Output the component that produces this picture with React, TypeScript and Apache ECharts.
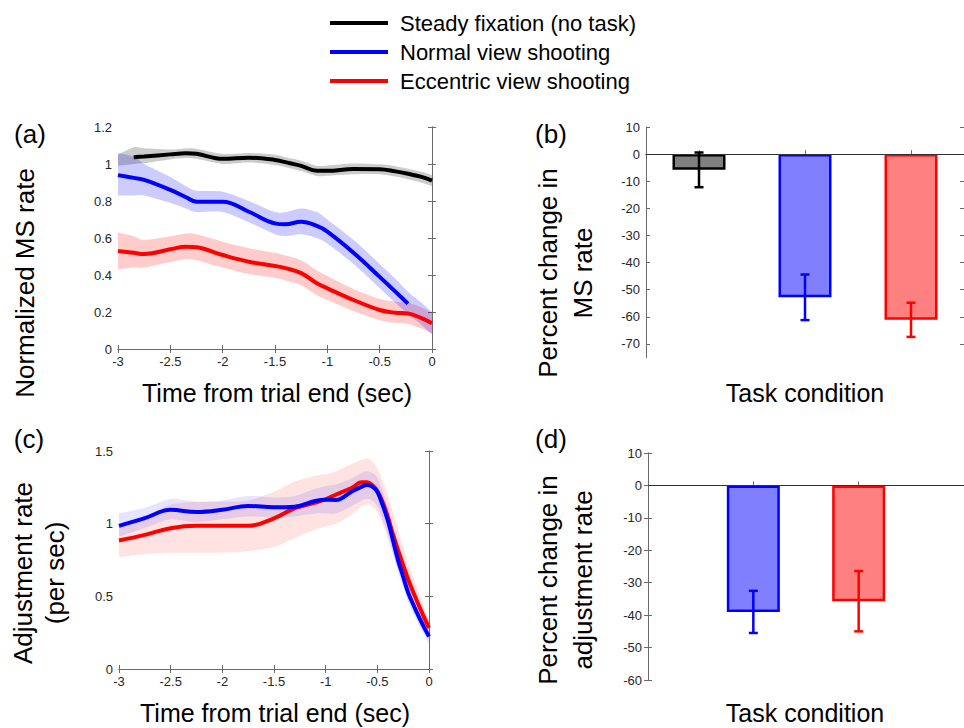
import React, { useEffect, useRef } from "react";
import * as echarts from "echarts";

// ---------- data ----------
const legendNames = ["Steady fixation (no task)", "Normal view shooting", "Eccentric view shooting"];

// Panel (a): normalized MS rate
const aTime = [-3, -2.85, -2.75, -2.5, -2.35, -2.25, -2, -1.75, -1.5, -1.4, -1.25, -1.1, -1, -0.75, -0.5, -0.35, -0.23, -0.1, 0];
const aBlack = [null, 1.036, 1.04, 1.052, 1.058, 1.055, 1.028, 1.034, 1.022, 1.01, 0.99, 0.963, 0.963, 0.973, 0.972, 0.96, 0.947, 0.93, 0.91];
const aBlackLo = [0.99, 1.0, 1.005, 1.025, 1.032, 1.028, 1.0, 1.008, 0.995, 0.983, 0.962, 0.935, 0.936, 0.945, 0.945, 0.932, 0.918, 0.9, 0.88];
const aBlackHi = [1.05, 1.09, 1.085, 1.078, 1.084, 1.082, 1.054, 1.06, 1.05, 1.037, 1.018, 0.99, 0.992, 1.003, 0.998, 0.988, 0.975, 0.958, 0.94];
const aBlue = [0.94, 0.925, 0.914, 0.86, 0.82, 0.796, 0.796, 0.742, 0.679, 0.674, 0.688, 0.665, 0.634, 0.52, 0.39, 0.31, 0.245, null, null];
const aBlueLo = [0.83, 0.83, 0.83, 0.79, 0.76, 0.74, 0.74, 0.685, 0.62, 0.61, 0.62, 0.6, 0.57, 0.46, 0.33, 0.25, 0.19, 0.13, 0.08];
const aBlueHi = [1.06, 1.04, 1.0, 0.93, 0.88, 0.855, 0.85, 0.8, 0.74, 0.74, 0.76, 0.74, 0.7, 0.59, 0.46, 0.38, 0.31, 0.25, 0.2];
const aRed = [0.53, 0.52, 0.513, 0.539, 0.553, 0.55, 0.508, 0.472, 0.449, 0.437, 0.41, 0.355, 0.328, 0.265, 0.211, 0.196, 0.192, 0.167, 0.139];
const aRedLo = [0.43, 0.44, 0.44, 0.47, 0.485, 0.48, 0.44, 0.405, 0.385, 0.37, 0.345, 0.29, 0.265, 0.205, 0.155, 0.14, 0.135, 0.11, 0.085];
const aRedHi = [0.63, 0.61, 0.59, 0.61, 0.625, 0.62, 0.58, 0.545, 0.52, 0.505, 0.48, 0.425, 0.395, 0.325, 0.27, 0.255, 0.25, 0.225, 0.195];

// Panel (c): adjustment rate
const cTime = [-3, -2.75, -2.5, -2.25, -2, -1.75, -1.5, -1.3, -1.1, -1, -0.9, -0.75, -0.65, -0.6, -0.55, -0.5, -0.45, -0.4, -0.35, -0.3, -0.25, -0.2, -0.15, -0.1, -0.05, 0];
const cBlue = [0.985, 1.038, 1.095, 1.08, 1.095, 1.122, 1.113, 1.117, 1.156, 1.165, 1.163, 1.22, 1.255, 1.266, 1.255, 1.22, 1.13, 1.026, 0.89, 0.751, 0.635, 0.522, 0.44, 0.362, 0.29, 0.224];
const cBlueLo = [0.91, 0.97, 1.03, 1.01, 1.03, 1.05, 1.04, 1.05, 1.07, 1.07, 1.07, 1.12, 1.16, 1.17, 1.16, 1.12, 1.03, 0.93, 0.8, 0.67, 0.56, 0.455, 0.38, 0.305, 0.24, 0.17];
const cBlueHi = [1.07, 1.11, 1.17, 1.15, 1.16, 1.19, 1.18, 1.19, 1.24, 1.26, 1.27, 1.31, 1.35, 1.36, 1.35, 1.32, 1.23, 1.12, 0.98, 0.83, 0.71, 0.59, 0.5, 0.42, 0.34, 0.28];
const cRed = [0.884, 0.923, 0.969, 0.985, 0.985, 0.985, 1.037, 1.106, 1.145, 1.168, 1.2, 1.245, 1.285, 1.285, 1.266, 1.225, 1.15, 1.05, 0.93, 0.82, 0.715, 0.614, 0.525, 0.44, 0.36, 0.282];
const cRedLo = [0.77, 0.79, 0.8, 0.8, 0.8, 0.81, 0.84, 0.9, 0.96, 0.98, 1.0, 1.06, 1.12, 1.13, 1.12, 1.08, 1.0, 0.9, 0.79, 0.69, 0.59, 0.5, 0.43, 0.36, 0.3, 0.23];
const cRedHi = [1.0, 1.05, 1.13, 1.15, 1.15, 1.16, 1.22, 1.29, 1.33, 1.34, 1.36, 1.41, 1.44, 1.45, 1.43, 1.38, 1.3, 1.2, 1.08, 0.96, 0.84, 0.73, 0.63, 0.53, 0.43, 0.34];

// Panel (b): percent change in MS rate
const bPos = [1, 2, 3];
const bMean = [-5.8, -52.8, -61.1];
const bErr = [6.4, 8.4, 6.3];
const bFill = ["#808080", "#8080ff", "#ff8080"];
const bEdge = ["#000000", "#0000ff", "#ff0000"];

// Panel (d): percent change in adjustment rate
const dPos = [1, 2];
const dMean = [-39.0, -35.7];
const dErr = [6.5, 9.3];
const dFill = ["#8080ff", "#ff8080"];
const dEdge = ["#0000ff", "#ff0000"];

// tick values
const bYTicks = [-70, -60, -50, -40, -30, -20, -10, 0, 10];

// ---------- helpers ----------
const FONT = "'Liberation Sans', Arial, Helvetica, sans-serif";
const AX = "#6a6a6a";
const LBL = "#262626";

function pairs(xs: number[], ys: (number | null)[]) {
  return xs.map((x, i) => [x, ys[i]]);
}

const tickStyle = { show: true, inside: true, length: 4, lineStyle: { color: AX, width: 1 } };
const lineStyleAx = { show: true, lineStyle: { color: AX, width: 1 } };
const labelStyle = { color: LBL, fontSize: 13, fontFamily: FONT };

// smooth curve (Catmull-Rom) through screen points, continuing an open path
function curveThrough(pts: number[][], start: boolean) {
  let d = (start ? "M" : "L") + pts[0][0].toFixed(2) + "," + pts[0][1].toFixed(2);
  const k = 0.8 / 6;
  for (let i = 0; i < pts.length - 1; i++) {
    const p0 = pts[Math.max(0, i - 1)];
    const p1 = pts[i];
    const p2 = pts[i + 1];
    const p3 = pts[Math.min(pts.length - 1, i + 2)];
    const c1x = p1[0] + (p2[0] - p0[0]) * k;
    const c1y = p1[1] + (p2[1] - p0[1]) * k;
    const c2x = p2[0] - (p3[0] - p1[0]) * k;
    const c2y = p2[1] - (p3[1] - p1[1]) * k;
    d += "C" + [c1x, c1y, c2x, c2y, p2[0], p2[1]].map((v) => v.toFixed(2)).join(",");
  }
  return d;
}

function bandSeries(xi: number, yi: number, xs: number[], lo: number[], hi: number[], color: string) {
  return {
    type: "custom", xAxisIndex: xi, yAxisIndex: yi, z: 1, silent: true, clip: true,
    data: xs.map((x, i) => [x, lo[i], hi[i]]),
    renderItem: (params: any, api: any) => {
      if (params.dataIndex !== 0) return { type: "group", children: [] };
      const up = xs.map((x, i) => api.coord([x, hi[i]]));
      const dn = xs.map((x, i) => api.coord([x, lo[i]])).reverse();
      const d = curveThrough(up, true) + curveThrough(dn, false) + "Z";
      return { type: "path", shape: { pathData: d }, style: { fill: color, stroke: "none" } };
    },
  };
}

function meanSeries(name: string, xi: number, yi: number, xs: number[], ys: (number | null)[], color: string) {
  return {
    type: "line", name, xAxisIndex: xi, yAxisIndex: yi, data: pairs(xs, ys), smooth: 0.4,
    symbol: "none", lineStyle: { color, width: 4 }, itemStyle: { color }, z: 3, connectNulls: false,
  };
}

function errorSeries(xi: number, yi: number, pos: number[], mean: number[], err: number[], edge: string[]) {
  return {
    type: "custom", xAxisIndex: xi, yAxisIndex: yi, z: 5, silent: true,
    data: pos.map((p, i) => ({ value: [p, mean[i] - err[i], mean[i] + err[i]], itemStyle: { color: edge[i] } })),
    renderItem: (params: any, api: any) => {
      const x = api.value(0);
      const p1 = api.coord([x, api.value(1)]);
      const p2 = api.coord([x, api.value(2)]);
      const col = api.visual("color");
      const st = { stroke: col, lineWidth: 2.5 };
      const hw = 4.5;
      return {
        type: "group",
        children: [
          { type: "line", shape: { x1: p1[0], y1: p1[1], x2: p2[0], y2: p2[1] }, style: st },
          { type: "line", shape: { x1: p1[0] - hw, y1: p1[1], x2: p1[0] + hw, y2: p1[1] }, style: st },
          { type: "line", shape: { x1: p2[0] - hw, y1: p2[1], x2: p2[0] + hw, y2: p2[1] }, style: st },
        ],
      };
    },
  };
}

function barSeries(xi: number, yi: number, pos: number[], mean: number[], fill: string[], edge: string[]) {
  return {
    type: "bar", xAxisIndex: xi, yAxisIndex: yi, barWidth: 53, z: 3,
    data: pos.map((p, i) => ({ value: [p, mean[i]], itemStyle: { color: fill[i], borderColor: edge[i], borderWidth: 2.5 } })),
    markLine: {
      silent: true, symbol: "none", label: { show: false },
      lineStyle: { color: "#333333", width: 1, type: "solid" },
      data: [{ yAxis: 0 }],
    },
  };
}

function xAxisPair(grid: number, min: number, max: number, opts: any) {
  return [
    { type: "value", gridIndex: grid, position: "bottom", min, max, ...opts.bottom, axisLine: lineStyleAx, splitLine: { show: false } },
    { type: "value", gridIndex: grid, position: "top", min, max, ...opts.top, axisLine: lineStyleAx, axisLabel: { show: false }, splitLine: { show: false } },
  ];
}
function yAxisPair(grid: number, min: number, max: number, opts: any) {
  return [
    { type: "value", gridIndex: grid, position: "left", min, max, ...opts.left, axisLine: lineStyleAx, splitLine: { show: false } },
    { type: "value", gridIndex: grid, position: "right", min, max, ...opts.right, axisLine: lineStyleAx, axisLabel: { show: false }, splitLine: { show: false } },
  ];
}

function txt(text: string, x: number, y: number, size: number, rotate = false, lineHeight?: number) {
  return {
    type: "text", x, y, rotation: rotate ? Math.PI / 2 : 0, silent: true,
    style: {
      text, fill: "#000", fontSize: size, fontFamily: FONT, lineHeight: lineHeight ?? size * 1.2,
      textAlign: "center", textVerticalAlign: "middle", align: "center", verticalAlign: "middle",
    },
  };
}

export default function App() {
  const ref = useRef<HTMLDivElement>(null);
  useEffect(() => {
    if (!ref.current) return;
    const chart = echarts.init(ref.current, undefined, { renderer: "svg" });
    const timeTickX = { interval: 0.5, axisTick: tickStyle, axisLabel: { ...labelStyle, margin: 6 } };
    const timeTickXTop = { interval: 0.5, axisTick: tickStyle };

    const option: any = {
      animation: false,
      backgroundColor: "#ffffff",
      legend: {
        data: legendNames, orient: "vertical", left: 325, top: 7, itemGap: 7,
        itemWidth: 58, itemHeight: 4, icon: "rect", selectedMode: false,
        textStyle: { fontSize: 22, fontFamily: FONT, color: "#000", lineHeight: 22, padding: [0, 0, 0, 7] },
      },
      grid: [
        { left: 118, top: 127, width: 314, height: 222 },
        { left: 119, top: 451, width: 310, height: 218 },
        { left: 646, top: 127, width: 325, height: 230.5 },
        { left: 648, top: 453, width: 324, height: 227 },
      ],
      xAxis: [
        ...xAxisPair(0, -3, 0, { bottom: timeTickX, top: timeTickXTop }),
        ...xAxisPair(1, -3, 0, { bottom: timeTickX, top: timeTickXTop }),
        ...xAxisPair(2, 0.5, 3.5, {
          bottom: { axisTick: { ...tickStyle, customValues: bPos }, axisLabel: { show: false } },
          top: { axisTick: { ...tickStyle, customValues: bPos } },
        }),
        ...xAxisPair(3, 0, 3, {
          bottom: { axisTick: { ...tickStyle, customValues: dPos }, axisLabel: { show: false } },
          top: { axisTick: { ...tickStyle, customValues: dPos } },
        }),
      ],
      yAxis: [
        ...yAxisPair(0, 0, 1.2, {
          left: { interval: 0.2, axisTick: tickStyle, axisLabel: { ...labelStyle, margin: 6 } },
          right: { interval: 0.2, axisTick: tickStyle },
        }),
        ...yAxisPair(1, 0, 1.5, {
          left: { interval: 0.5, axisTick: tickStyle, axisLabel: { ...labelStyle, margin: 6 } },
          right: { interval: 0.5, axisTick: tickStyle },
        }),
        ...yAxisPair(2, -75, 10, {
          left: { axisTick: { ...tickStyle, customValues: bYTicks }, axisLabel: { ...labelStyle, margin: 6, customValues: bYTicks } },
          right: { axisTick: { ...tickStyle, customValues: bYTicks } },
        }),
        ...yAxisPair(3, -60, 10, {
          left: { interval: 10, axisTick: tickStyle, axisLabel: { ...labelStyle, margin: 6 } },
          right: { interval: 10, axisTick: tickStyle },
        }),
      ],
      series: [
        // panel (a)
        bandSeries(0, 0, aTime, aRedLo, aRedHi, "rgba(255,0,0,0.2)"),
        bandSeries(0, 0, aTime, aBlueLo, aBlueHi, "rgba(0,0,255,0.2)"),
        bandSeries(0, 0, aTime, aBlackLo, aBlackHi, "rgba(0,0,0,0.2)"),
        meanSeries(legendNames[0], 0, 0, aTime, aBlack, "#000000"),
        meanSeries(legendNames[1], 0, 0, aTime, aBlue, "#0000ff"),
        meanSeries(legendNames[2], 0, 0, aTime, aRed, "#ff0000"),
        // panel (c)
        bandSeries(2, 2, cTime, cRedLo, cRedHi, "rgba(255,0,0,0.11)"),
        bandSeries(2, 2, cTime, cBlueLo, cBlueHi, "rgba(0,0,255,0.1)"),
        meanSeries("c_red", 2, 2, cTime, cRed, "#ff0000"),
        meanSeries("c_blue", 2, 2, cTime, cBlue, "#0000ff"),
        // panel (b)
        barSeries(4, 4, bPos, bMean, bFill, bEdge),
        errorSeries(4, 4, bPos, bMean, bErr, bEdge),
        // panel (d)
        barSeries(6, 6, dPos, dMean, dFill, dEdge),
        errorSeries(6, 6, dPos, dMean, dErr, dEdge),
      ],
      graphic: [
        txt("(a)", 30, 134, 26),
        txt("(b)", 551, 134, 26),
        txt("(c)", 29, 439, 26),
        txt("(d)", 551, 439, 26),
        txt("Normalized MS rate", 25, 283, 26, true),
        txt("Percent change in\nMS rate", 565, 273, 26, true, 35),
        txt("Adjustment rate\n(per sec)", 39, 573, 26, true, 32),
        txt("Percent change in\nadjustment rate", 565, 580, 26, true, 35),
        txt("Time from trial end (sec)", 277, 393, 25),
        txt("Task condition", 805, 393, 25),
        txt("Time from trial end (sec)", 275, 713, 25),
        txt("Task condition", 805, 713, 25),
      ],
    };
    chart.setOption(option);
    return () => chart.dispose();
  }, []);
  return (
    <div
      ref={ref}
      style={{ position: "absolute", left: 0, top: 0, width: 964, height: 728, background: "#fff" }}
    />
  );
}
